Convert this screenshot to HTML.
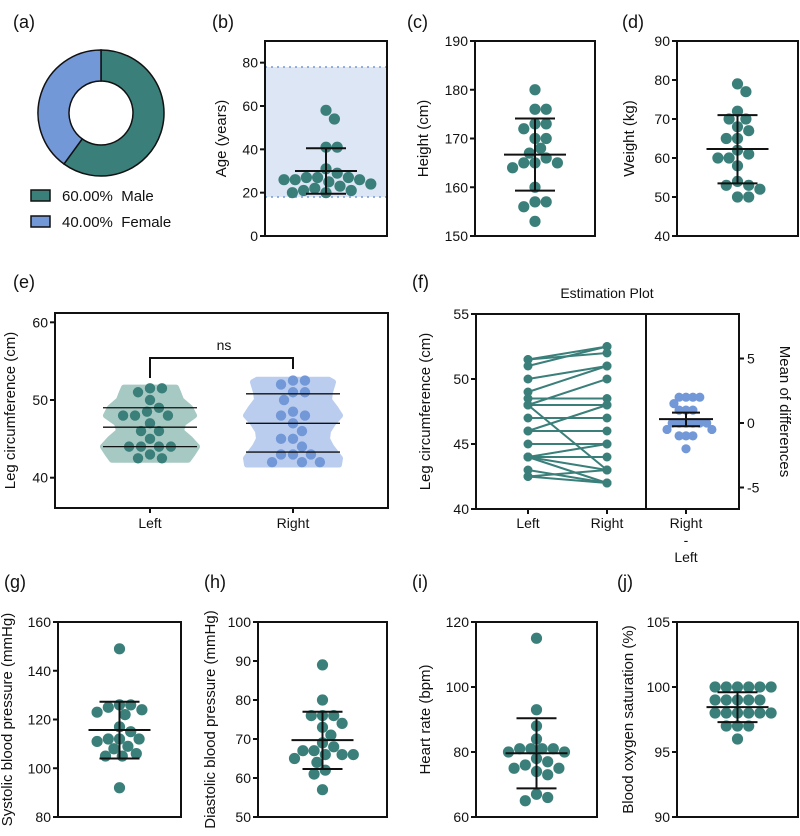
<!DOCTYPE html>
<html><head><meta charset="utf-8"><style>
body{margin:0;background:#fff}
svg{display:block;font-family:"Liberation Sans",Arial,sans-serif}
</style></head><body>
<svg id="fig" width="800" height="836" viewBox="0 0 800 836" xmlns="http://www.w3.org/2000/svg"></svg>
<script>
// ---- data ----
const sexLabels=["Male","Female"];
const sexPct=[60,40];
const ageVals=[58,54,41,41,31,29,27,27,27,26,26,26,25,24,23,22,21,21,20,20];
const ageStats=[30,19.5,40.5];
const ageRange=[18,78];
const heightVals=[180,176,176,173,173,172,170,170,168,167,166,165,165,165,164,160,157,157,156,153];
const heightStats=[166.7,159.3,174.1];
const weightVals=[79,77,72,70,70,68,67,65,65,62,61,60,60,58,54,53,53,52,50,50];
const weightStats=[62.3,53.5,71];
const sbpVals=[149,126,126,125,124,123,122,117,115,112,112,112,111,109,108,106,105,105,92];
const sbpStats=[115.7,104,127.3];
const dbpVals=[89,80,76,76,76,74,73,71,69,68,67,67,66,66,66,65,64,62,61,57];
const dbpStats=[69.7,62.3,77];
const hrVals=[115,93,88,84,81,81,81,81,80,80,78,77,76,75,75,74,73,67,66,65];
const hrStats=[79.6,68.8,90.4];
const spo2Vals=[100,100,100,100,100,100,99,99,99,99,99,98,98,98,98,98,98,97,97,97,96];
const spo2Stats=[98.45,97.3,99.6];
const legLeft=[51.5,51.5,51,50,49,48.5,48,48,48,47,46,46,45,44,44,44,44,43,42.5,42.5];
const legRight=[52.5,52,52.5,51,51,48.5,50,48,43,47,46,48,45,42,44,43,45,42,43,42];
const legLeftQ=[44,46.5,49];
const legRightQ=[43.3,47,50.8];
const diffVals=[2,2,2,2,1.5,1,1,1,0,0,0,0,0,0,-0.5,-0.5,-1,-1,-1,-2];
const diffStats=[0.3,-0.25,0.8];

const NS="http://www.w3.org/2000/svg";
const svg=document.getElementById('fig');
const TEAL="#3b7f7a", BLUE="#7398d8";
function el(tag,attrs,parent){const e=document.createElementNS(NS,tag);for(const k in attrs)e.setAttribute(k,attrs[k]);(parent||svg).appendChild(e);return e;}
function txt(s,x,y,size,anchor,parent,rot){const t=el('text',{x:x,y:y,'font-size':size,'text-anchor':anchor||'middle',fill:'#111'},parent);if(rot)t.setAttribute('transform','rotate('+rot+' '+x+' '+y+')');t.textContent=s;return t;}
function swarm(vals,ys,r){const pl=[];const out=[];const order=vals.map((v,i)=>i).sort((a,b)=>vals[b]-vals[a]);
 order.forEach(i=>{const y=ys(vals[i]);for(let k=0;k<80;k++){const off=(k%2?1:-1)*Math.ceil(k/2)*r*0.5;let ok=true;for(const p of pl){if(Math.hypot(p[0]-off,p[1]-y)<2*r-0.2){ok=false;break;}}if(ok){pl.push([off,y]);out[i]=[off,y];break;}}});return out;}
function label(s,x,y){const t=txt(s,x,y,18,'start');}

function dotPanel(id,o){
 const g=el('g',{});
 const ys=v=>o.y1-(v-o.vmin)/(o.vmax-o.vmin)*(o.y1-o.y0);
 if(o.band){const b=el('rect',{x:o.x0,y:ys(o.band[1]),width:o.x1-o.x0,height:ys(o.band[0])-ys(o.band[1]),fill:'#dde6f5'},g);
  o.band.forEach(v=>{const l=el('line',{x1:o.x0,x2:o.x1,y1:ys(v),y2:ys(v),stroke:BLUE,'stroke-width':1.5,'stroke-dasharray':'2,4'},g);});}
 const cx=(o.x0+o.x1)/2;
 const pos=swarm(o.vals,ys,5.6);
 pos.forEach(p=>{const c=el('circle',{cx:cx+p[0],cy:p[1],r:5.6,fill:TEAL},g);});
 const [m,lo,hi]=o.stats;
 const ln=(x1,y1,x2,y2,n)=>{const l=el('line',{x1,y1,x2,y2,stroke:'#111','stroke-width':2},g);};
 ln(cx-31,ys(m),cx+31,ys(m),'mean-line');ln(cx,ys(lo),cx,ys(hi),'sd-bar');ln(cx-20,ys(lo),cx+20,ys(lo),'sd-cap-low');ln(cx-20,ys(hi),cx+20,ys(hi),'sd-cap-high');
 const box=el('rect',{x:o.x0,y:o.y0,width:o.x1-o.x0,height:o.y1-o.y0,fill:'none',stroke:'#111','stroke-width':2},g);
 o.ticks.forEach(t=>{const y=ys(t);el('line',{x1:o.x0-5,x2:o.x0,y1:y,y2:y,stroke:'#111','stroke-width':2},g);const tl=txt(String(t),o.x0-7,y+5,14,'end',g);});
 const at=txt(o.title,o.tx,(o.y0+o.y1)/2,15,'middle',g,-90);
}

// (a) donut
label('(a)',13,28);label('(b)',212,28);label('(c)',407,28);label('(d)',622,28);
(function(){const g=el('g',{});
 const cx=101,cy=113,R=63,r=32;let a0=-Math.PI/2;const cols=[TEAL,BLUE];
 sexPct.forEach((p,i)=>{const a1=a0+p/100*2*Math.PI;const lg=(a1-a0)>Math.PI?1:0;
  const d=`M${cx+R*Math.cos(a0)} ${cy+R*Math.sin(a0)} A${R} ${R} 0 ${lg} 1 ${cx+R*Math.cos(a1)} ${cy+R*Math.sin(a1)} L${cx+r*Math.cos(a1)} ${cy+r*Math.sin(a1)} A${r} ${r} 0 ${lg} 0 ${cx+r*Math.cos(a0)} ${cy+r*Math.sin(a0)}Z`;
  const s=el('path',{d,fill:cols[i],stroke:'#111','stroke-width':1.5},g);a0=a1;
  const ly=190+i*26;const lr=el('rect',{x:31,y:ly,width:19,height:11,fill:cols[i],stroke:'#111','stroke-width':1.5},g);
  const lt=txt(p.toFixed(2)+'%\u00a0\u00a0'+sexLabels[i],62,ly+11,15,'start',g);});
})();
dotPanel('age',{x0:265,x1:387,y0:41,y1:236,vmin:0,vmax:90,ticks:[0,20,40,60,80],vals:ageVals,stats:ageStats,band:ageRange,title:'Age (years)',tx:226});
dotPanel('height',{x0:475,x1:595,y0:41,y1:236,vmin:150,vmax:190,ticks:[150,160,170,180,190],vals:heightVals,stats:heightStats,title:'Height (cm)',tx:428});
dotPanel('weight',{x0:677,x1:798,y0:41,y1:236,vmin:40,vmax:90,ticks:[40,50,60,70,80,90],vals:weightVals,stats:weightStats,title:'Weight (kg)',tx:634});

// (e) violin
label('(e)',13,288);label('(f)',412,288);
(function(){const g=el('g',{});
 const x0=55,x1=388,y0=313,y1=508,vmin=36.1,vmax=61.2;const ys=v=>y1-(v-vmin)/(vmax-vmin)*(y1-y0);
 const cats=['Left','Right'],cxs=[150,293];
 const shapes=[[[42.3,38],[43,42],[44,47],[45,40],[46,31],[47,33],[48,44],[49,40],[50,31],[51,28],[51.6,26]],
  [[41.7,46],[42.5,47],[44,38],[45,34],[46,35],[47,40],[48,47],[49,42],[50,36],[51,37],[52.3,40],[52.6,36]]];
 const fills=['#a7c9c3','#bacdef'];const vals=[legLeft,legRight];const qs=[legLeftQ,legRightQ];const dc=[TEAL,BLUE];
 shapes.forEach((sh,i)=>{const cx=cxs[i];let pts=sh.map(p=>[cx+p[1],ys(p[0])]);let pts2=sh.slice().reverse().map(p=>[cx-p[1],ys(p[0])]);
  const all=pts.concat(pts2);let d='M'+all.map(p=>p[0].toFixed(1)+' '+p[1].toFixed(1)).join(' L')+'Z';
  const v=el('path',{d,fill:fills[i],'stroke-linejoin':'round',stroke:fills[i],'stroke-width':6},g);
  const pos=swarm(vals[i],ys,5.2);pos.forEach(p=>{const c=el('circle',{cx:cx+p[0]*1.15,cy:p[1],r:5.2,fill:dc[i]},g);});
  qs[i].forEach(q=>{const l=el('line',{x1:cx-47,x2:cx+47,y1:ys(q),y2:ys(q),stroke:'#111','stroke-width':1.3},g);});
  const tl=txt(cats[i],cx,528,14,'middle',g);
  el('line',{x1:cx,x2:cx,y1:y1,y2:y1+5,stroke:'#111','stroke-width':2},g);});
 const br=el('path',{d:`M150 378 V358 H293 V369`,fill:'none',stroke:'#111','stroke-width':2},g);
 const ns=txt('ns',224,350,14,'middle',g);
 const box=el('rect',{x:x0,y:y0,width:x1-x0,height:y1-y0,fill:'none',stroke:'#111','stroke-width':2},g);
 [40,50,60].forEach(t=>{el('line',{x1:x0-5,x2:x0,y1:ys(t),y2:ys(t),stroke:'#111','stroke-width':2},g);const tl=txt(String(t),x0-7,ys(t)+5,14,'end',g);});
 const at=txt('Leg circumference (cm)',15,(y0+y1)/2,15,'middle',g,-90);
})();

// (f) estimation plot
(function(){const g=el('g',{});
 const x0=476,xd=646,x1=739,y0=314,y1=509;const ys=v=>y1-(v-40)/15*(y1-y0);const yd=v=>423-v*12.9;
 const xl=528,xr=607,xdiff=686;
 legLeft.forEach((l,i)=>{const r=legRight[i];const ln=el('line',{x1:xl,y1:ys(l),x2:xr,y2:ys(r),stroke:TEAL,'stroke-width':2},g);
  [[xl,l],[xr,r]].forEach(p=>{const c=el('circle',{cx:p[0],cy:ys(p[1]),r:4.5,fill:TEAL},g);});});
 const pos=swarm(diffVals,yd,4.6);pos.forEach(p=>{const c=el('circle',{cx:xdiff+p[0]*0.75,cy:p[1],r:4.6,fill:BLUE},g);});
 const [m,lo,hi]=diffStats;const L=(a,b,c,d,n)=>{const l=el('line',{x1:a,y1:b,x2:c,y2:d,stroke:'#111','stroke-width':2},g);};
 L(xdiff-27,yd(m),xdiff+27,yd(m),'mean-difference-line');L(xdiff,yd(lo),xdiff,yd(hi),'ci-bar');L(xdiff-14,yd(lo),xdiff+14,yd(lo),'ci-cap');L(xdiff-14,yd(hi),xdiff+14,yd(hi),'ci-cap');
 const box=el('rect',{x:x0,y:y0,width:x1-x0,height:y1-y0,fill:'none',stroke:'#111','stroke-width':2},g);
 el('line',{x1:xd,x2:xd,y1:y0,y2:y1,stroke:'#111','stroke-width':2},g);
 [40,45,50,55].forEach(t=>{el('line',{x1:x0-5,x2:x0,y1:ys(t),y2:ys(t),stroke:'#111','stroke-width':2},g);const tl=txt(String(t),x0-7,ys(t)+5,14,'end',g);});
 [-5,0,5].forEach(t=>{el('line',{x1:x1,x2:x1+5,y1:yd(t),y2:yd(t),stroke:'#111','stroke-width':2},g);const tl=txt(String(t),x1+8,yd(t)+5,14,'start',g);});
 [[xl,'Left'],[xr,'Right'],[xdiff,'Right']].forEach(p=>{el('line',{x1:p[0],x2:p[0],y1:y1,y2:y1+5,stroke:'#111','stroke-width':2},g);const tl=txt(p[1],p[0],528,14,'middle',g);});
 const t2=txt('-',xdiff,545,14,'middle',g);
 const t3=txt('Left',xdiff,562,14,'middle',g);
 const tt=txt('Estimation Plot',607,298,14,'middle',g);
 const at=txt('Leg circumference (cm)',430,(y0+y1)/2,15,'middle',g,-90);
 const rt=txt('Mean of differences',780,(y0+y1)/2,15,'middle',g,90);
})();

// bottom row
label('(g)',4,588);label('(h)',204,588);label('(i)',412,588);label('(j)',617,588);
dotPanel('systolic',{x0:58,x1:181,y0:622,y1:817,vmin:80,vmax:160,ticks:[80,100,120,140,160],vals:sbpVals,stats:sbpStats,title:'Systolic blood pressure (mmHg)',tx:12});
dotPanel('diastolic',{x0:258,x1:387,y0:622,y1:817,vmin:50,vmax:100,ticks:[50,60,70,80,90,100],vals:dbpVals,stats:dbpStats,title:'Diastolic blood pressure (mmHg)',tx:215});
dotPanel('heart-rate',{x0:476,x1:597,y0:622,y1:817,vmin:60,vmax:120,ticks:[60,80,100,120],vals:hrVals,stats:hrStats,title:'Heart rate (bpm)',tx:430});
dotPanel('spo2',{x0:677,x1:798,y0:622,y1:817,vmin:90,vmax:105,ticks:[90,95,100,105],vals:spo2Vals,stats:spo2Stats,title:'Blood oxygen saturation (%)',tx:633});
</script>
</body></html>
